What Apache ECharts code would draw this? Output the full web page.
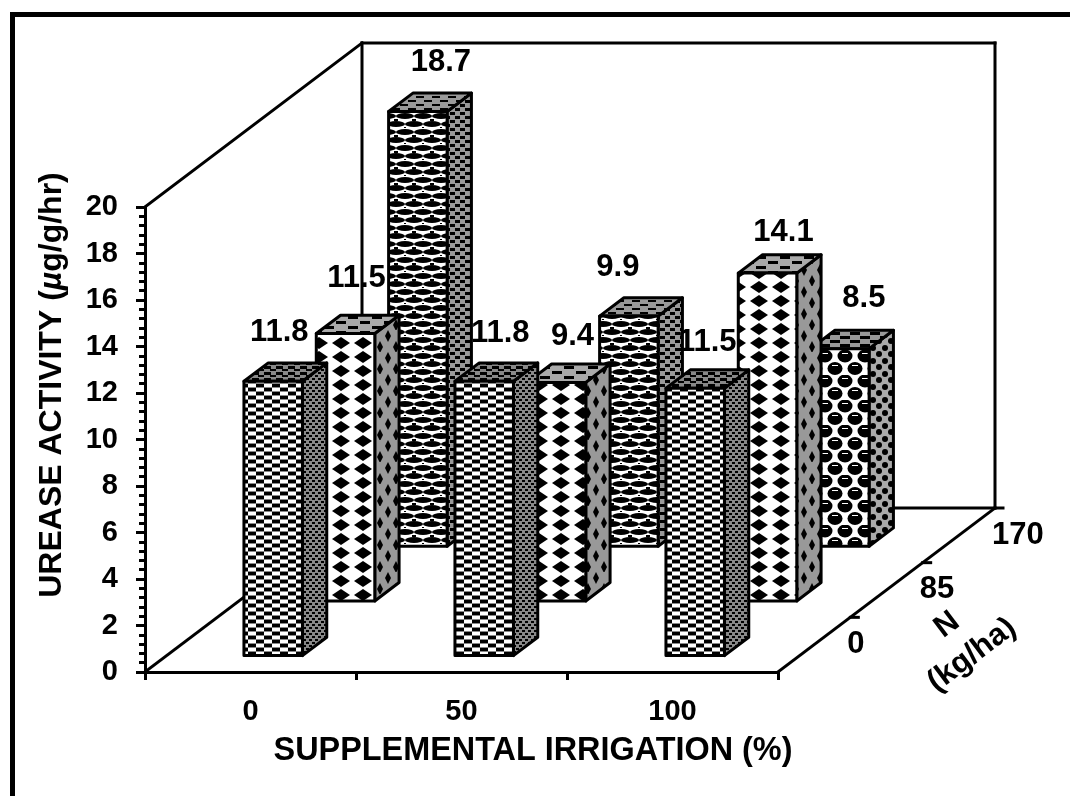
<!DOCTYPE html>
<html>
<head>
<meta charset="utf-8">
<style>
  html, body { margin: 0; padding: 0; background: #fff; }
  #chart { width: 1070px; height: 796px; }
</style>
<script src="https://cdn.jsdelivr.net/npm/echarts@6/dist/echarts.min.js"></script>
</head>
<body>
<div id="chart"></div>
<script>
// chart data
var irrigationLevels = ['0', '50', '100'];
var nitrogenLevels = ['0', '85', '170'];
var ureaseN0 = [11.8, 11.8, 11.5];
var ureaseN85 = [11.5, 9.4, 14.1];
var ureaseN170 = [18.7, 9.9, 8.5];
var yTicks = [0, 20, 2];

// hand placed value labels in the original, dx/dy from the bar's front top centre
var labelNudge = [
    [[7, -49], [17, -48], [13, -46]],
    [[12, -55], [17, -46], [17, -41]],
    [[24, -49], [-10, -49], [25, -50]]
];

var FONT = '"Liberation Sans", Arial, sans-serif';
var DEPTH_X = 217, DEPTH_Y = -164; // floor depth in px
var BAR_W = 58.5;
var BAR_SHIFT = 1;

// tile helper, draw(ctx) paints one repeat of the hatch
function tile(w, h, bg, draw) {
    var c = document.createElement('canvas');
    c.width = w; c.height = h;
    var ctx = c.getContext('2d');
    ctx.fillStyle = bg;
    ctx.fillRect(0, 0, w, h);
    ctx.fillStyle = '#000';
    draw(ctx);
    return { image: c, repeat: 'repeat' };
}
function diamond(ctx, x, y, rx, ry) {
    ctx.beginPath();
    ctx.moveTo(x - rx, y); ctx.lineTo(x, y - ry); ctx.lineTo(x + rx, y); ctx.lineTo(x, y + ry);
    ctx.closePath();
    ctx.fill();
}
function blob(ctx, x, y, rx, ry) {
    ctx.beginPath();
    ctx.ellipse(x, y, rx, ry, 0, 0, Math.PI * 2);
    ctx.fill();
}
var brick = tile(16, 8, '#fff', function (ctx) {
    ctx.fillRect(0, 0, 8, 4); ctx.fillRect(8, 4, 8, 4);
    ctx.fillStyle = '#888';
    ctx.fillRect(0, 7, 16, 1); ctx.fillRect(0, 3, 16, 1);
});
var brickSide = tile(6, 6, '#888', function (ctx) {
    ctx.fillRect(0, 0, 3, 2); ctx.fillRect(3, 3, 3, 2);
});
var brickTop = tile(12, 6, '#888', function (ctx) {
    ctx.fillRect(0, 0, 7, 3); ctx.fillRect(6, 3, 7, 2);
});
var diamonds = tile(22, 14, '#fff', function (ctx) {
    diamond(ctx, 11, 7, 9, 6);
});
var diamondSide = tile(16, 22, '#999', function (ctx) {
    diamond(ctx, 4, 6, 3, 6); diamond(ctx, 12, 17, 3, 6);
});
var diamondTop = tile(24, 10, '#aaa', function (ctx) {
    ctx.fillRect(0, 1, 10, 3); ctx.fillRect(12, 6, 10, 3);
});
var weave = tile(18, 16, '#fff', function (ctx) {
    blob(ctx, 9, 4, 9, 3);
    blob(ctx, 0, 12, 9, 3); blob(ctx, 18, 12, 9, 3);
    ctx.fillRect(0, 7, 2, 2); ctx.fillRect(16, 7, 2, 2); ctx.fillRect(8, 15, 2, 1);
});
var weaveSide = tile(10, 8, '#999', function (ctx) {
    ctx.fillRect(0, 0, 5, 3); ctx.fillRect(5, 4, 5, 3);
});
var weaveTop = tile(16, 8, '#999', function (ctx) {
    ctx.fillRect(0, 0, 8, 2); ctx.fillRect(8, 4, 8, 2);
});
var blobs = tile(20, 25, '#fff', function (ctx) {
    blob(ctx, 5, 6, 7.5, 6.5); blob(ctx, 15, 18.5, 7.5, 6.5);
    blob(ctx, 25, 6, 7.5, 6.5); blob(ctx, -5, 18.5, 7.5, 6.5);
    ctx.fillStyle = '#fff';
    ctx.fillRect(2, 3, 6, 1); ctx.fillRect(12, 15, 6, 1);
});
var blobSide = tile(12, 13, '#aaa', function (ctx) {
    blob(ctx, 3, 3, 3, 3); blob(ctx, 9, 10, 3, 3);
});
var blobTop = tile(20, 8, '#999', function (ctx) {
    ctx.fillRect(0, 0, 10, 3); ctx.fillRect(10, 4, 10, 3);
});

// [front, side, top] fills by (depth row, irrigation column)
var brickSet = [brick, brickSide, brickTop];
var diamondSet = [diamonds, diamondSide, diamondTop];
var weaveSet = [weave, weaveSide, weaveTop];
var blobSet = [blobs, blobSide, blobTop];
var fills = [
    [brickSet, brickSet, brickSet],
    [diamondSet, diamondSet, diamondSet],
    [weaveSet, weaveSet, blobSet]
];

// one row per bar, back rows first so the front rows paint over them
var bars = [];
[ureaseN170, ureaseN85, ureaseN0].forEach(function (vals, k) {
    var row = 2 - k;
    vals.forEach(function (v, col) { bars.push([col, v, row]); });
});

function poly(points, fill) {
    return {
        type: 'polygon',
        shape: { points: points },
        style: { fill: fill, stroke: '#000', lineWidth: 3, lineJoin: 'round' }
    };
}

function renderBar(params, api) {
    var col = api.value(0), v = api.value(1), row = api.value(2);
    var rowDepth = (row + 0.3) / 3;
    var sideDepth = 0.112; // bar depth as part of the whole floor
    var dx = DEPTH_X * rowDepth, dy = DEPTH_Y * rowDepth;
    var sx = DEPTH_X * sideDepth, sy = DEPTH_Y * sideDepth;
    var base = api.coord([col, 0]);
    var top = api.coord([col, v]);
    var l = base[0] + dx - BAR_W / 2 + BAR_SHIFT, r = l + BAR_W;
    var y0 = base[1] + dy, y1 = y0 - (base[1] - top[1]);
    var f = fills[row][col];
    return {
        type: 'group',
        children: [
            poly([[r, y1], [r + sx, y1 + sy], [r + sx, y0 + sy], [r, y0]], f[1]),
            poly([[l, y1], [l + sx, y1 + sy], [r + sx, y1 + sy], [r, y1]], f[2]),
            poly([[l, y1], [r, y1], [r, y0], [l, y0]], f[0])
        ]
    };
}

// value labels in their own series so they sit over every bar
function renderLabel(params, api) {
    var col = api.value(0), v = api.value(1), row = api.value(2);
    var rowDepth = (row + 0.3) / 3;
    var base = api.coord([col, 0]), top = api.coord([col, v]);
    var nudge = labelNudge[row][col];
    return {
        type: 'text',
        style: {
            x: base[0] + DEPTH_X * rowDepth + nudge[0],
            y: top[1] + DEPTH_Y * rowDepth + nudge[1],
            text: v.toFixed(1),
            fill: '#000',
            font: 'bold 31px ' + FONT,
            align: 'center',
            verticalAlign: 'middle'
        }
    };
}

// back wall, side wall and floor edges, hung off the axis corners
function renderWalls(params, api) {
    var band = api.size([1, 0])[0];
    var first = api.coord([0, 0]), last = api.coord([irrigationLevels.length - 1, 0]);
    var o = [first[0] - band / 2, first[1]];
    var t = [o[0], api.coord([0, yTicks[1]])[1]];
    var e = [last[0] + band / 2, last[1]];
    var line = function (a, b) {
        return {
            type: 'line',
            shape: { x1: a[0], y1: a[1], x2: b[0], y2: b[1] },
            style: { stroke: '#000', lineWidth: 3, lineCap: 'square' }
        };
    };
    var back = function (p) { return [p[0] + DEPTH_X, p[1] + DEPTH_Y]; };
    var corner = [back(e)[0], back(t)[1]];
    var kids = [
        line(o, back(o)), line(t, back(t)), line(e, back(e)),
        line(back(o), back(t)), line(back(t), corner),
        line(back(e), corner), line(back(o), back(e))
    ];
    nitrogenLevels.forEach(function (n, i) {
        var f = (i + 1) / nitrogenLevels.length;
        var p = [e[0] + DEPTH_X * f, e[1] + DEPTH_Y * f];
        kids.push(line(p, [p[0] + 8, p[1]]));
        kids.push({
            type: 'text',
            style: {
                x: p[0] - 3, y: p[1] + 27, text: n, fill: '#000',
                font: 'bold 31px ' + FONT, align: 'left', verticalAlign: 'middle'
            }
        });
    });
    return { type: 'group', children: kids };
}

var chart = echarts.init(document.getElementById('chart'), null, { renderer: 'canvas' });
chart.setOption({
    animation: false,
    backgroundColor: '#fff',
    grid: { left: 145, top: 207, width: 633, height: 465 },
    xAxis: {
        type: 'category',
        data: irrigationLevels,
        axisLine: { lineStyle: { color: '#000', width: 3 } },
        axisTick: { show: true, length: 8, lineStyle: { color: '#000', width: 3 } },
        axisLabel: { color: '#000', fontFamily: FONT, fontWeight: 'bold', fontSize: 29, margin: 25 },
        splitLine: { show: false }
    },
    yAxis: {
        type: 'value',
        min: yTicks[0],
        max: yTicks[1],
        interval: yTicks[2],
        axisLine: { show: true, lineStyle: { color: '#000', width: 3 } },
        axisTick: { show: true, length: 9, lineStyle: { color: '#000', width: 3 } },
        minorTick: { show: true, splitNumber: 5, length: 6, lineStyle: { color: '#000', width: 3 } },
        axisLabel: { color: '#000', fontFamily: FONT, fontWeight: 'bold', fontSize: 29, margin: 27 },
        splitLine: { show: false }
    },
    graphic: [
        { type: 'rect', silent: true, shape: { x: 12.5, y: 14.5, width: 1100, height: 900 },
          style: { fill: 'none', stroke: '#000', lineWidth: 5 } },
        { type: 'text', x: 533, y: 751, style: {
            text: 'SUPPLEMENTAL IRRIGATION (%)', fill: '#000',
            font: 'bold 32.4px ' + FONT, align: 'center', verticalAlign: 'middle' } },
        { type: 'text', x: 52, y: 385, rotation: Math.PI / 2, style: {
            text: 'UREASE ACTIVITY ({i|\u00b5}g/g/hr)', fill: '#000',
            font: 'bold 32px ' + FONT, align: 'center', verticalAlign: 'middle',
            rich: { i: { font: 'italic bold 32px ' + FONT, fill: '#000' } } } },
        { type: 'text', x: 947, y: 625, rotation: 37 * Math.PI / 180, style: {
            text: 'N', fill: '#000', font: 'bold 31px ' + FONT, align: 'center', verticalAlign: 'middle' } },
        { type: 'text', x: 972, y: 655, rotation: 37 * Math.PI / 180, style: {
            text: '(kg/ha)', fill: '#000', font: 'bold 31px ' + FONT, align: 'center', verticalAlign: 'middle' } }
    ],
    series: [
        { type: 'custom', coordinateSystem: 'cartesian2d', renderItem: renderWalls, data: [[0, 0]], z: 1, clip: false, silent: true },
        { type: 'custom', coordinateSystem: 'cartesian2d', renderItem: renderBar, data: bars, z: 2, clip: false,
          encode: { x: 0, y: 1 }, silent: true },
        { type: 'custom', coordinateSystem: 'cartesian2d', renderItem: renderLabel, data: bars, z: 3, clip: false,
          encode: { x: 0, y: 1 }, silent: true }
    ]
});
</script>
</body>
</html>
